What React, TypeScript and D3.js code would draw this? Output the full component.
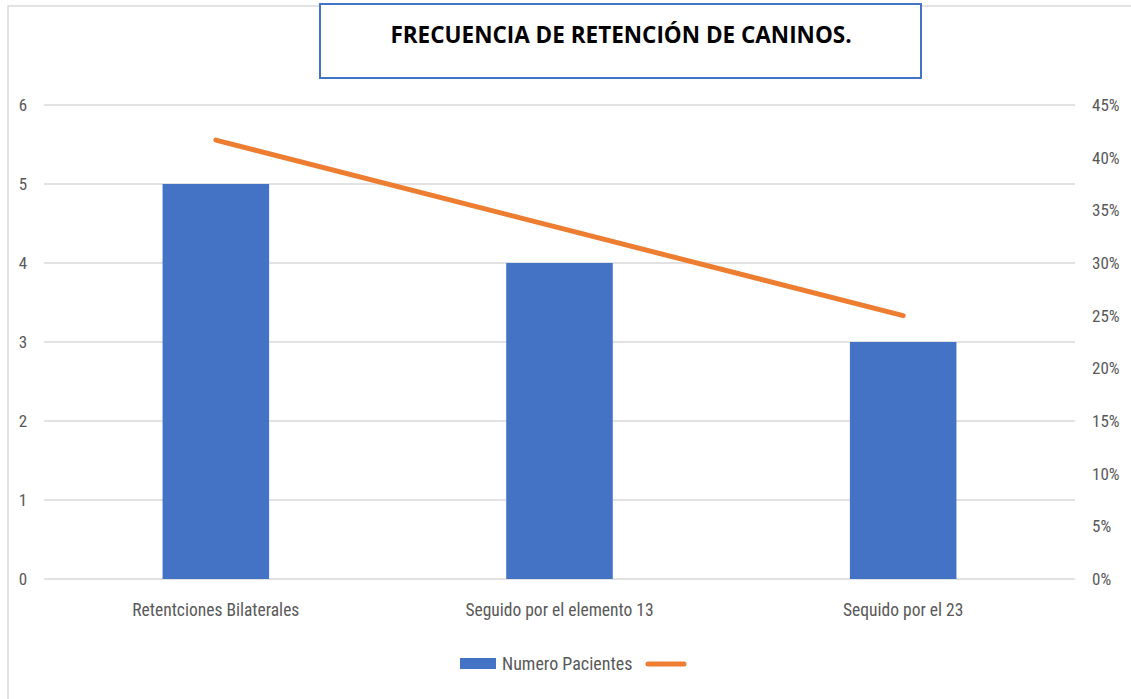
import * as d3 from "d3";

const categories = ["Retentciones Bilaterales", "Seguido por el elemento 13", "Sequido por el 23"];
const pacientes = [5, 4, 3];
const porcentaje = [0.4167, 0.3333, 0.25];
const leftTicks = [0, 1, 2, 3, 4, 5, 6];
const rightTicks = [0, 0.05, 0.1, 0.15, 0.2, 0.25, 0.3, 0.35, 0.4, 0.45];

const W = 1131;
const H = 699;
const plot = { left: 44, right: 1075, top: 105, bottom: 579 };
const tickFont = "'Liberation Sans Narrow', 'Roboto Condensed', sans-serif";

export default function App() {
  const x = d3.scaleBand().domain(categories).range([plot.left, plot.right]).paddingInner(0.69).paddingOuter(0.345);
  const y = d3.scaleLinear().domain([0, 6]).range([plot.bottom, plot.top]);
  const y2 = d3.scaleLinear().domain([0, 0.45]).range([plot.bottom, plot.top]);
  const fmt = d3.format(".0%");

  const line = d3
    .line<number>()
    .x((_, i) => (x(categories[i]) as number) + x.bandwidth() / 2)
    .y((d) => y2(d));

  return (
    <svg width={W} height={H} style={{ position: "absolute", left: 0, top: 0, background: "#fff" }}>
      {/* outer frame */}
      <path d={`M8,${H} L8,6 L${W},6`} fill="none" stroke="#d9d9d9" strokeWidth={1.5} />

      {/* grid */}
      {leftTicks.map((t) => (
        <line key={t} x1={plot.left} x2={plot.right} y1={y(t)} y2={y(t)} stroke="#d9d9d9" strokeWidth={1.5} />
      ))}

      {/* left axis labels */}
      {leftTicks.map((t) => (
        <text key={t} x={23} y={y(t)} dy="0.35em" textAnchor="middle" fontFamily={tickFont} fontSize={17} fill="#595959">
          {t}
        </text>
      ))}

      {/* right axis labels */}
      {rightTicks.map((t) => (
        <text key={t} x={1092} y={y2(t)} dy="0.35em" textAnchor="start" fontFamily={tickFont} fontSize={17} fill="#595959">
          {fmt(t)}
        </text>
      ))}

      {/* bars */}
      {pacientes.map((v, i) => (
        <rect key={i} x={x(categories[i])} y={y(v)} width={x.bandwidth()} height={y(0) - y(v)} fill="#4472c4" />
      ))}

      {/* line */}
      <path d={line(porcentaje) || ""} fill="none" stroke="#ed7d31" strokeWidth={5} strokeLinecap="round" strokeLinejoin="round" />

      {/* category labels */}
      {categories.map((c) => (
        <text key={c} x={(x(c) as number) + x.bandwidth() / 2} y={616} textAnchor="middle" fontFamily={tickFont} fontSize={17.5} fill="#595959">
          {c}
        </text>
      ))}

      {/* title box */}
      <rect x={320} y={4} width={601} height={74} fill="#fff" stroke="#4472c4" strokeWidth={2} />
      <text x={621} y={43} textAnchor="middle" fontFamily="'Open Sans', sans-serif" fontWeight="bold" fontSize={22.5} fill="#000">
        FRECUENCIA DE RETENCIÓN DE CANINOS.
      </text>

      {/* legend */}
      <rect x={460} y={658} width={36} height={11} fill="#4472c4" />
      <text x={502} y={670} fontFamily={tickFont} fontSize={18} fill="#595959">
        Numero Pacientes
      </text>
      <line x1={648} x2={684} y1={664} y2={664} stroke="#ed7d31" strokeWidth={5} strokeLinecap="round" />
    </svg>
  );
}
